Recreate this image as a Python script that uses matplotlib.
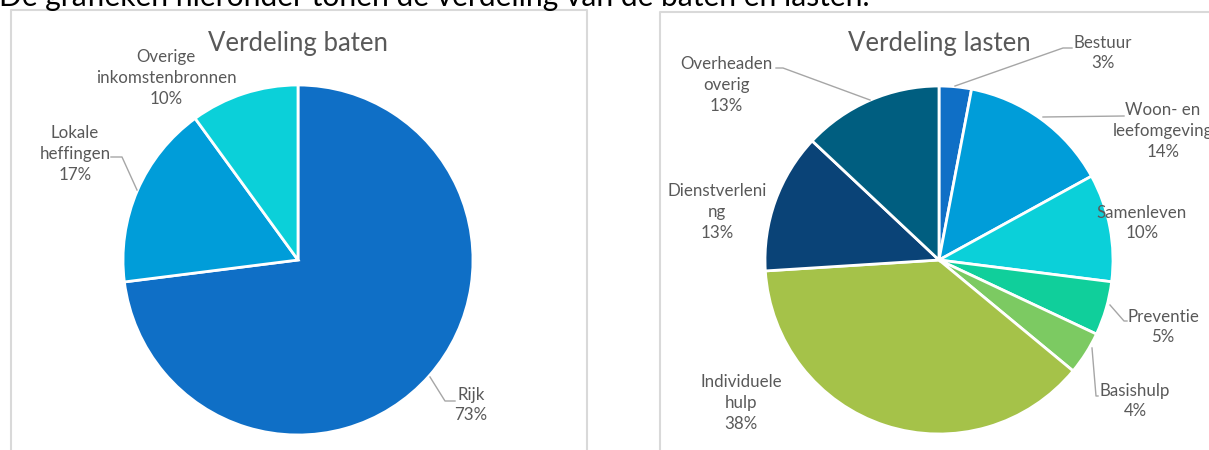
import matplotlib.pyplot as plt

plt.rcParams["font.family"] = ["Lato", "DejaVu Sans"]

# --- data -------------------------------------------------------------
baten_labels = ["Rijk", "Lokale\nheffingen", "Overige\ninkomstenbronnen"]
baten_values = [73, 17, 10]
baten_colors = ["#0F6FC6", "#009DD9", "#0BD0D9"]

lasten_labels = ["Bestuur", "Woon- en\nleefomgeving", "Samenleven", "Preventie",
                 "Basishulp", "Individuele\nhulp", "Dienstverleni\nng", "Overheaden\noverig"]
lasten_values = [3, 14, 10, 5, 4, 38, 13, 13]
lasten_colors = ["#0F6FC6", "#009DD9", "#0BD0D9", "#10CF9B",
                 "#7CCA62", "#A5C249", "#0A4377", "#005E80"]

intro = "De grafieken hieronder tonen de verdeling van de baten en lasten."

# --- layout (pixel coordinates, y measured from top) -------------------
W, H = 1209, 450
TXT = "#595959"
LINE = "#A6A6A6"


def Y(y):
    return H - y


baten_pos = [(471, 405), (75, 154), (166, 78)]
baten_leaders = [[(430, 377), (445, 401), (455, 401)],
                 [(137, 190), (122, 157), (111, 157)],
                 None]

lasten_pos = [(1103, 53), (1163, 131), (1142, 223), (1163, 327),
              (1135, 401), (741, 403), (717, 212), (726, 85)]
lasten_leaders = [[(955, 86), (1063, 48), (1072, 48)],
                  [(1043, 117), (1124, 116)],
                  None,
                  [(1110, 305), (1124, 321), (1127, 321)],
                  [(1092, 348), (1096, 396), (1098, 396)],
                  None,
                  None,
                  [(870, 100), (783, 68), (776, 68)]]

fig = plt.figure(figsize=(W / 100, H / 100), dpi=100)
ax = fig.add_axes([0, 0, 1, 1])


def draw_pie(values, colors, labels, center, radius, positions, leaders, title):
    ax.pie(values, colors=colors, startangle=90, counterclock=False,
           center=(center[0], Y(center[1])), radius=radius,
           wedgeprops=dict(edgecolor="white", linewidth=2))
    ax.text(center[0], Y(44), title, ha="center", va="center",
            fontsize=18.5, color=TXT)
    for lab, val, (px, py), pts in zip(labels, values, positions, leaders):
        ax.text(px, Y(py), f"{lab}\n{val}%", ha="center", va="center",
                multialignment="center", fontsize=12.2, color=TXT,
                linespacing=1.38)
        if pts:
            ax.plot([p[0] for p in pts], [Y(p[1]) for p in pts],
                    color=LINE, lw=1)


draw_pie(baten_values, baten_colors, baten_labels, (298, 260), 175,
         baten_pos, baten_leaders, "Verdeling baten")
draw_pie(lasten_values, lasten_colors, lasten_labels, (939, 260), 174,
         lasten_pos, lasten_leaders, "Verdeling lasten")

# chart borders
ax.plot([11, 11, 587, 587], [0, Y(10), Y(10), 0], color="#D9D9D9", lw=1.5)
ax.plot([660, 660, W + 5], [0, Y(12), Y(12)], color="#D9D9D9", lw=1.5)

# intro sentence, cut off at the top
ax.text(-1, Y(6), intro, ha="left", va="baseline", fontsize=21.6, color="black")

ax.set_xlim(0, W)
ax.set_ylim(0, H)
ax.set_aspect("equal")
ax.axis("off")

fig.savefig("out.png", dpi=100)
